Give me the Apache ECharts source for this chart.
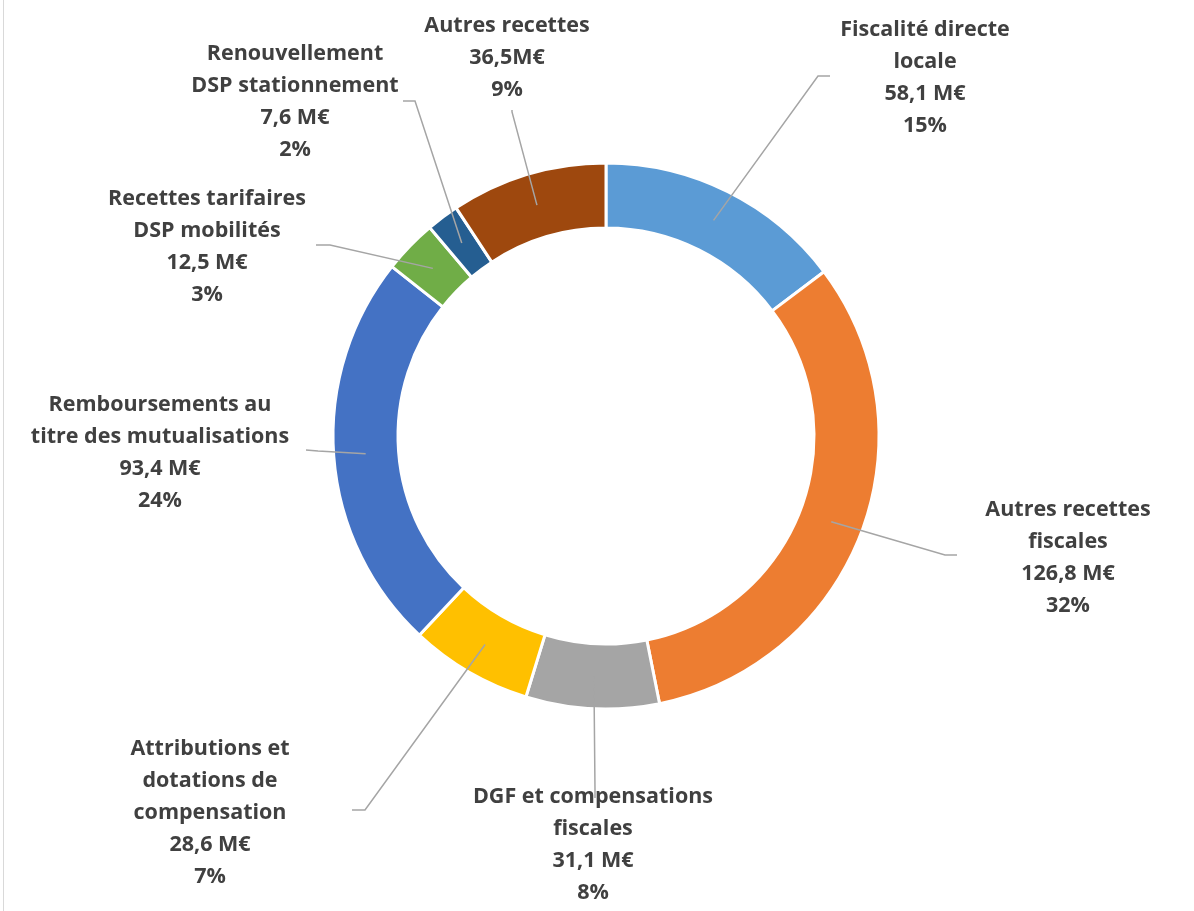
<!DOCTYPE html>
<html lang="fr">
<head>
    <meta charset="utf-8">
    <title>Recettes</title>
    <script src="https://cdn.jsdelivr.net/npm/echarts@6/dist/echarts.min.js"></script>
    <style>
        html, body { margin: 0; padding: 0; background: #fff; }
        #main { position: absolute; left: 0; top: 0; width: 1194px; height: 911px; }
        #edge { position: absolute; left: 3px; top: 0; width: 0; height: 911px; border-left: 1px solid #d9d9d9; }
    </style>
</head>
<body>
<div id="edge"></div>
<div id="main"></div>
<script type="text/javascript">
    // donnees
    var categories = [
        'Fiscalité directe\nlocale',
        'Autres recettes\nfiscales',
        'DGF et compensations\nfiscales',
        'Attributions et\ndotations de\ncompensation',
        'Remboursements au\ntitre des mutualisations',
        'Recettes tarifaires\nDSP mobilités',
        'Renouvellement\nDSP stationnement',
        'Autres recettes'
    ];
    var values = [58.1, 126.8, 31.1, 28.6, 93.4, 12.5, 7.6, 36.5];
    var unitGap = [' ', ' ', ' ', ' ', ' ', ' ', ' ', ''];
    var colors = ['#5B9BD5', '#ED7D31', '#A5A5A5', '#FFC000', '#4472C4', '#70AD47', '#255E91', '#9E480E'];

    // placement des etiquettes (centre du texte, coude et fin du trait)
    var labelPos = [
        { x: 925, y: 78, bend: [818, 76], end: [830, 76] },
        { x: 1068, y: 558, bend: [945, 555], end: [957, 555] },
        { x: 593, y: 845, bend: [595, 790], end: [595, 798] },
        { x: 210, y: 813, bend: [365, 810], end: [352, 810] },
        { x: 160, y: 453, bend: [318, 451], end: [306, 450] },
        { x: 207, y: 247, bend: [330, 245], end: [316, 245] },
        { x: 295, y: 102, bend: [415, 101], end: [403, 101] },
        { x: 507, y: 58, bend: [512, 112], end: [512, 110] }
    ];

    var cx = 606, cy = 436, rMid = 241;

    var chart = echarts.init(document.getElementById('main'), null, { renderer: 'canvas' });

    var ringData = [], labelData = [];
    for (var i = 0; i < values.length; i++) {
        ringData.push({ name: categories[i], value: values[i], itemStyle: { color: colors[i] } });
        labelData.push({ name: categories[i], value: values[i] });
    }

    var option = {
        animation: false,
        series: [{
            // anneau
            type: 'pie',
            z: 2,
            center: [cx, cy],
            radius: [208, 273],
            startAngle: 90,
            clockwise: true,
            silent: true,
            itemStyle: { borderColor: '#fff', borderWidth: 3 },
            label: { show: false },
            labelLine: { show: false },
            data: ringData
        }, {
            // etiquettes et traits par-dessus l'anneau
            type: 'pie',
            z: 5,
            center: [cx, cy],
            radius: [208, 273],
            startAngle: 90,
            clockwise: true,
            silent: true,
            avoidLabelOverlap: false,
            itemStyle: { color: 'rgba(0,0,0,0)' },
            label: {
                show: true,
                position: 'outside',
                color: '#404040',
                fontFamily: 'Open Sans',
                fontWeight: 'bold',
                fontSize: 21.5,
                lineHeight: 32,
                align: 'center',
                formatter: function (p) {
                    var v = p.value.toFixed(1).replace('.', ',');
                    return p.name + '\n' + v + unitGap[p.dataIndex] + 'M€\n' + Math.round(p.percent) + '%';
                }
            },
            labelLine: {
                show: true,
                lineStyle: { color: '#A5A5A5', width: 1.5 }
            },
            labelLayout: function (p) {
                var s = labelPos[p.dataIndex];
                var a = p.labelLinePoints[0];
                var dx = a[0] - cx, dy = a[1] - cy;
                var d = Math.sqrt(dx * dx + dy * dy);
                var start = [cx + dx / d * rMid, cy + dy / d * rMid];
                return {
                    x: s.x,
                    y: s.y,
                    align: 'center',
                    verticalAlign: 'middle',
                    labelLinePoints: [start, s.bend, s.end]
                };
            },
            data: labelData
        }]
    };
    chart.setOption(option);
</script>
</body>
</html>
